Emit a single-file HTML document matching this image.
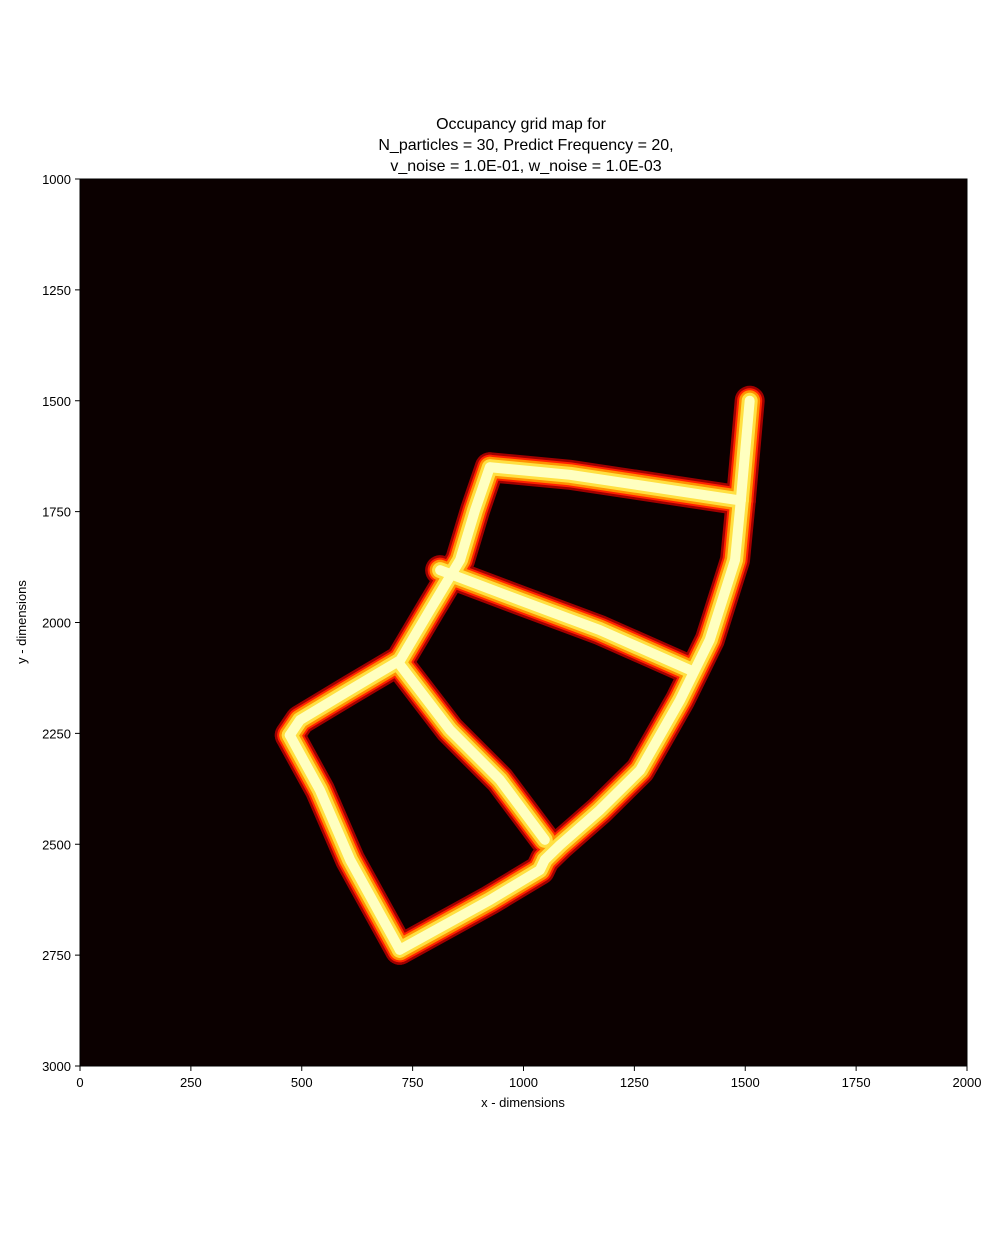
<!DOCTYPE html>
<html><head><meta charset="utf-8"><style>
body{margin:0;background:#fff;}
svg text{font-family:"Liberation Sans",sans-serif;fill:#000;}
</style></head><body>
<svg id="chart" width="1000" height="1245" viewBox="0 0 1000 1245">
<text x="521" y="129" font-size="16" text-anchor="middle">Occupancy grid map for</text>
<text x="526" y="150" font-size="16" text-anchor="middle">N_particles = 30, Predict Frequency = 20,</text>
<text x="526" y="171" font-size="16" text-anchor="middle">v_noise = 1.0E-01, w_noise = 1.0E-03</text>
<rect x="80" y="179" width="887" height="887" fill="#0b0000"/>
<g id="map"></g>
<rect x="80" y="179" width="887" height="887" fill="none" stroke="#000" stroke-width="1"/>
<g id="xt"></g>
<g id="yt"></g>
<text x="523" y="1107" font-size="13" text-anchor="middle">x - dimensions</text>
<text transform="translate(26,622) rotate(-90)" font-size="13" text-anchor="middle">y - dimensions</text>
</svg>
<script>
const xTicks=[0,250,500,750,1000,1250,1500,1750,2000];
const yTicks=[1000,1250,1500,1750,2000,2250,2500,2750,3000];
const corridorNames=['right-top-strip','top-corridor','right-curve','bottom-corridor','left-corridor','left-diagonal','middle-corridor-1','middle-corridor-2'];
const corridorX=[
[1510,1490],
[925,1105,1490],
[1490,1477,1420,1353,1263,1172,1082,1048],
[1048,1037,924,721],
[721,609,541,485,473],
[473,496,609,722,789,857,891,924],
[812,992,1172,1375],
[722,834,947,1048]];
const corridorY=[
[1500,1725],
[1650,1667,1725],
[1725,1859,2039,2175,2333,2423,2502,2535],
[2535,2558,2626,2738],
[2738,2535,2378,2276,2254],
[2254,2220,2152,2085,1972,1859,1746,1650],
[1882,1950,2017,2107],
[2096,2242,2355,2490]];
const NS='http://www.w3.org/2000/svg';
const sx=v=>80+(v-0)*887/2000;
const sy=v=>179+(v-1000)*887/2000;
const map=document.getElementById('map');
const layers=[[30,'#a00000'],[25,'#ff2000'],[21,'#ff9000'],[16,'#ffe040'],[10,'#ffffc0']];
layers.forEach((L,li)=>{
  corridorX.forEach((xs,i)=>{
    const p=document.createElementNS(NS,'polyline');
    p.setAttribute('points',xs.map((x,j)=>sx(x)+','+sy(corridorY[i][j])).join(' '));
    p.setAttribute('fill','none');p.setAttribute('stroke',L[1]);p.setAttribute('stroke-width',L[0]);
    p.setAttribute('stroke-linejoin','round');p.setAttribute('stroke-linecap','round');
    
    
    map.appendChild(p);
  });
});
const xt=document.getElementById('xt');
xTicks.forEach(t=>{
  const g=document.createElementNS(NS,'g');
  
  
  g.innerHTML=`<line x1="${sx(t)}" x2="${sx(t)}" y1="1066" y2="1071" stroke="#000"/><text x="${sx(t)}" y="1087" font-size="13" text-anchor="middle">${t}</text>`;
  xt.appendChild(g);
});
const yt=document.getElementById('yt');
yTicks.forEach(t=>{
  const g=document.createElementNS(NS,'g');
  
  
  g.innerHTML=`<line x1="75" x2="80" y1="${sy(t)}" y2="${sy(t)}" stroke="#000"/><text x="71" y="${sy(t)+5}" font-size="13" text-anchor="end">${t}</text>`;
  yt.appendChild(g);
});
</script>
</body></html>
